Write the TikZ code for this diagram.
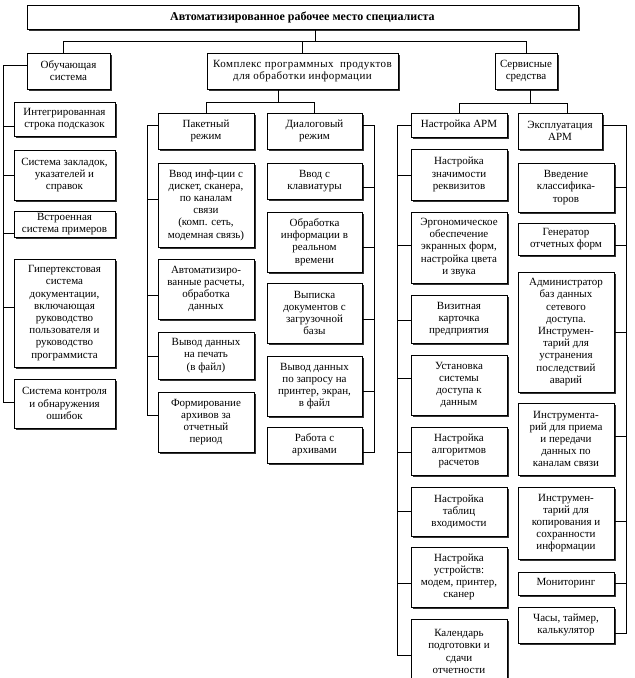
\documentclass[tikz,border=0pt]{standalone}
\usepackage{fontspec}
\setmainfont{Liberation Serif}
\usetikzlibrary{shadows}
\tikzset{
  box/.style={draw=black, line width=0.8pt, fill=white, align=center, inner sep=0pt,
    font=\fontsize{11}{12.2}\selectfont,
    drop shadow={shadow xshift=2pt, shadow yshift=-2pt, fill=black!80, opacity=1}},
  conn/.style={draw=black, line width=0.8pt}
}
\newcommand{\bx}[6]{\node[box, minimum width={(#4-#2)*1pt}, minimum height={(#5-#3)*1pt}]
  (#1) at ({(#2+#4)/2},{(#3+#5)/2}) {#6};}
% tick from a node's west/east side at height #3 to spine #2
\newcommand{\tkw}[3]{\draw (#1.west |- 0,#3) -- (#2 |- 0,#3);}
\newcommand{\tke}[3]{\draw (#1.east |- 0,#3) -- (#2 |- 0,#3);}
\begin{document}
\begin{tikzpicture}[x=1pt, y=-1pt]
\useasboundingbox (0,0) rectangle (635,678);
\clip (0,0) rectangle (635,678);
\fill[white] (0,0) rectangle (635,678);
% coordinates for buses and spines
\coordinate (busT) at (0,41);
\coordinate (busK) at (0,102);
\coordinate (busS) at (0,103);
\coordinate (sO) at (3,0);
\coordinate (sP) at (147,0);
\coordinate (sD) at (374,0);
\coordinate (sN) at (397,0);
\coordinate (sE) at (626,0);
% boxes
\node[box, font=\fontsize{12}{14}\bfseries, minimum width=551pt, minimum height=24pt] (title) at (302.5,17) {Автоматизированное рабочее место специалиста};
\bx{obuch}{27}{53}{110}{89}{Обучающая\\система}
\bx{kompl}{207}{53}{398}{89}{\addfontfeature{LetterSpace=4}Комплекс программных\ \ продуктов\\\addfontfeature{LetterSpace=4}для обработки информации}
\bx{serv}{495}{53}{557}{89}{Сервисные\\средства}
%
\bx{o1}{14}{102}{115}{136}{Интегрированная\\строка подсказок}
\bx{o2}{14}{150}{115}{200}{Система закладок,\\указателей и\\справок}
\bx{o3}{14}{211}{115}{237}{Встроенная\\система примеров}
\bx{o4}{14}{259}{115}{367}{Гипертекстовая\\система\\документации,\\включающая\\руководство\\пользователя и\\руководство\\программиста}
\bx{o5}{14}{379}{115}{428}{Система контроля\\и обнаружения\\ошибок}
%
\bx{pak}{158}{113}{254}{149}{Пакетный\\режим}
\bx{p1}{158}{163}{254}{247}{Ввод инф-ции с\\дискет, сканера,\\по каналам\\связи\\(комп. сеть,\\модемная связь)}
\bx{p2}{158}{259}{254}{319}{Автоматизиро-\\ванные расчеты,\\обработка\\данных}
\bx{p3}{158}{332}{254}{379}{Вывод данных\\на печать\\(в файл)}
\bx{p4}{158}{392}{254}{452}{Формирование\\архивов за\\отчетный\\период}
%
\bx{dial}{267}{113}{362}{149}{Диалоговый\\режим}
\bx{d1}{267}{163}{362}{199}{Ввод с\\клавиатуры}
\bx{d2}{267}{212}{362}{272}{Обработка\\информации в\\реальном\\времени}
\bx{d3}{267}{283}{362}{343}{Выписка\\документов с\\загрузочной\\базы}
\bx{d4}{267}{356}{362}{416}{Вывод данных\\по запросу на\\принтер, экран,\\в файл}
\bx{d5}{267}{427}{362}{463}{Работа с\\архивами}
%
\bx{nastr}{411}{113}{507}{137}{Настройка АРМ}
\bx{n1}{411}{149}{507}{200}{Настройка\\значимости\\реквизитов}
\bx{n2}{411}{212}{507}{283}{Эргономическое\\обеспечение\\экранных форм,\\настройка цвета\\и звука}
\bx{n3}{411}{295}{507}{343}{Визитная\\карточка\\предприятия}
\bx{n4}{411}{355}{507}{415}{Установка\\системы\\доступа к\\данным}
\bx{n5}{411}{427}{507}{475}{Настройка\\алгоритмов\\расчетов}
\bx{n6}{411}{487}{507}{536}{Настройка\\таблиц\\входимости}
\bx{n7}{411}{547}{507}{607}{Настройка\\устройств:\\модем, принтер,\\сканер}
\bx{n8}{411}{619}{507}{684}{Календарь\\подготовки и\\сдачи\\отчетности}
%
\bx{expl}{518}{113}{602}{149}{Эксплуатация\\АРМ}
\bx{e1}{518}{163}{614}{212}{Введение\\классифика-\\торов}
\bx{e2}{518}{223}{614}{255}{Генератор\\отчетных форм}
\bx{e3}{518}{272}{614}{392}{Администратор\\баз данных\\сетевого\\доступа.\\Инструмен-\\тарий для\\устранения\\последствий\\аварий}
\bx{e4}{518}{403}{614}{475}{Инструмента-\\рий для приема\\и передачи\\данных по\\каналам связи}
\bx{e5}{518}{487}{614}{559}{Инструмен-\\тарий для\\копирования и\\сохранности\\информации}
\bx{e6}{518}{572}{614}{595}{Мониторинг}
\bx{e7}{518}{607}{614}{643}{Часы, таймер,\\калькулятор}
%
% connectors
\begin{scope}[conn]
\draw ([xshift=12.5pt]title.south) -- ([xshift=12.5pt]title.south |- busT);
\draw ([xshift=-5.5pt]obuch.north) |- (serv.north |- busT) -- (serv.north);
\draw (kompl.north) -- (kompl.north |- busT);
% Komplex
\draw ([xshift=-24.5pt]kompl.south) -- ([xshift=-24.5pt]kompl.south |- busK);
\draw (pak.north) |- (dial.north |- busK) -- (dial.north);
% Servis
\draw ([xshift=4pt]serv.south) -- ([xshift=4pt]serv.south |- busS);
\draw (nastr.north) |- ([xshift=7pt]expl.north |- busS) -- ([xshift=7pt]expl.north);
% Obuch spine
\draw (obuch.west |- 0,65) -| (sO |- 0,402) -- (o5.west |- 0,402);
\tkw{o1}{sO}{126}\tkw{o2}{sO}{175}\tkw{o3}{sO}{233}\tkw{o4}{sO}{307}
% Paket spine
\draw (pak.west |- 0,125) -| (sP |- 0,415) -- (p4.west |- 0,415);
\tkw{p1}{sP}{199}\tkw{p2}{sP}{295}\tkw{p3}{sP}{356}
% Dialog spine
\draw (dial.east |- 0,125) -| (sD |- 0,452) -- (d5.east |- 0,452);
\tke{d1}{sD}{187}\tke{d2}{sD}{247}\tke{d3}{sD}{319}\tke{d4}{sD}{391}
% Nastroika spine
\draw (nastr.west |- 0,125) -| (sN |- 0,655) -- (n8.west |- 0,655);
\tkw{n1}{sN}{175}\tkw{n2}{sN}{245}\tkw{n3}{sN}{320}\tkw{n4}{sN}{378}
\tkw{n5}{sN}{452}\tkw{n6}{sN}{511}\tkw{n7}{sN}{583}
% Ekspl spine
\draw (expl.east |- 0,125) -| (sE |- 0,633) -- (e7.east |- 0,633);
\tke{e1}{sE}{187}\tke{e2}{sE}{245}\tke{e3}{sE}{332}\tke{e4}{sE}{436}
\tke{e5}{sE}{521}\tke{e6}{sE}{583}
\end{scope}
\end{tikzpicture}
\end{document}
